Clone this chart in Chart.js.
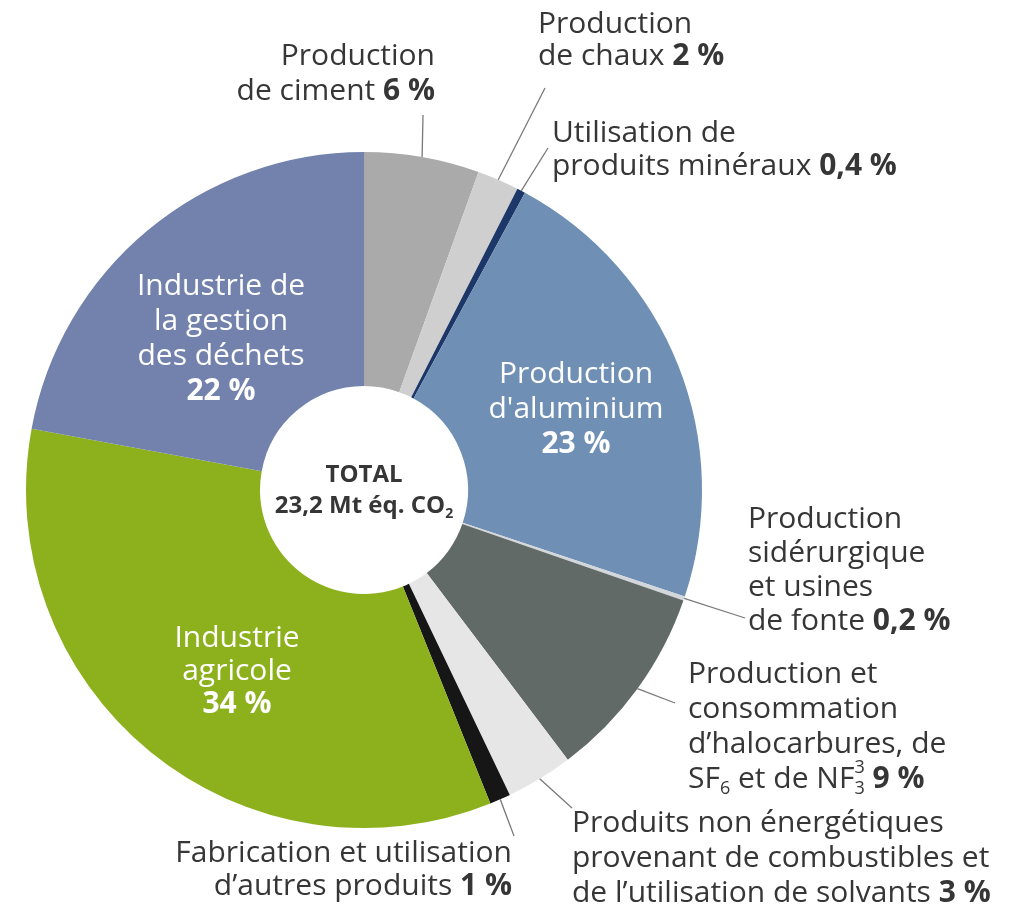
<!DOCTYPE html>
<html>
<head>
<meta charset="utf-8">
<script src="https://cdn.jsdelivr.net/npm/chart.js@4"></script>
<style>
  html, body { margin: 0; padding: 0; background: #fff; }
  #wrap { position: relative; width: 1025px; height: 907px; }
</style>
</head>
<body>
<div id="wrap"><canvas id="chart" width="1025" height="907"></canvas></div>
<script>
const categories = [
  'Production de ciment',
  'Production de chaux',
  'Utilisation de produits minéraux',
  "Production d'aluminium",
  'Production sidérurgique et usines de fonte',
  "Production et consommation d'halocarbures, de SF6 et de NF3",
  'Produits non énergétiques provenant de combustibles et de l’utilisation de solvants',
  'Fabrication et utilisation d’autres produits',
  'Industrie agricole',
  'Industrie de la gestion des déchets',
];
const shares = [5.5, 2, 0.4, 22.2, 0.2, 9.4, 3.2, 1, 34, 22.1];
const printed = ['6 %', '2 %', '0,4 %', '23 %', '0,2 %', '9 %', '3 %', '1 %', '34 %', '22 %'];
const colors = ['#aaaaaa', '#cfcfcf', '#1d3768', '#6f8fb4', '#d3d7dc', '#626a67', '#e6e6e6', '#161616', '#8db11d', '#7282ad'];

const totalLines = ['TOTAL', '23,2 Mt éq. CO'];

const DARK = '#363636';
const FONT = '"Open Sans", "DejaVu Sans", sans-serif';

const B = (t) => ({ t, bold: true });
const SUB = (t) => ({ t, sub: true });
const SUBSUP = (s, p) => ({ sub: s, sup: p });

// label blocks: index into data (for the leader line), anchor, lines of runs
const labelBlocks = [
  { i: 0, x: 435, y: 65, align: 'right', lh: 35, color: DARK, end: [423, 115],
    lines: [['Production'], ['de ciment ', B(printed[0])]] },
  { i: 1, x: 538, y: 33, align: 'left', lh: 32, color: DARK, end: [545, 88],
    lines: [['Production'], ['de chaux ', B(printed[1])]] },
  { i: 2, x: 552, y: 142, align: 'left', lh: 33, color: DARK, end: [548, 148],
    lines: [['Utilisation de'], ['produits minéraux ', B(printed[2])]] },
  { i: 3, x: 576, y: 383, align: 'center', lh: 35, color: '#fff',
    lines: [['Production'], ["d'aluminium"], [B(printed[3])]] },
  { i: 4, x: 748, y: 528, align: 'left', lh: 34, color: DARK, end: [745, 618],
    lines: [['Production'], ['sidérurgique'], ['et usines'], ['de fonte ', B(printed[4])]] },
  { i: 5, x: 688, y: 683, align: 'left', lh: 35, color: DARK, end: [675, 703],
    lines: [['Production et'], ['consommation'], ['d’halocarbures, de'],
            ['SF', SUB('6'), ' et de NF', SUBSUP('3', '3'), ' ', B(printed[5])]] },
  { i: 6, x: 572, y: 832, align: 'left', lh: 35, color: DARK, end: [572, 808],
    lines: [['Produits non énergétiques'], ['provenant de combustibles et'], ['de l’utilisation de solvants ', B(printed[6])]] },
  { i: 7, x: 512, y: 862, align: 'right', lh: 33, color: DARK, end: [514, 836],
    lines: [['Fabrication et utilisation'], ['d’autres produits ', B(printed[7])]] },
  { i: 8, x: 237, y: 647, align: 'center', lh: 33, color: '#fff',
    lines: [['Industrie'], ['agricole'], [B(printed[8])]] },
  { i: 9, x: 221, y: 295, align: 'center', lh: 35, color: '#fff',
    lines: [['Industrie de'], ['la gestion'], ['des déchets'], [B(printed[9])]] },
  { x: 364, y: 482, align: 'center', lh: 31, color: DARK, size: 24,
    lines: [[B(totalLines[0])], [B(totalLines[1]), { t: '2', sub: true, bold: true }]] },
];

function runFont(r, size, small) {
  const s = small ? Math.round(size * 0.6) : size;
  return (r.bold ? '700 ' : '400 ') + s + 'px ' + FONT;
}

function runWidth(ctx, r, size) {
  if (typeof r === 'string') r = { t: r };
  if (r.sup !== undefined) {
    ctx.font = runFont({}, size, true);
    return Math.max(ctx.measureText(r.sub).width, ctx.measureText(r.sup).width);
  }
  ctx.font = runFont(r, size, r.sub);
  return ctx.measureText(r.t).width;
}

function drawRun(ctx, r, x, y, size) {
  if (typeof r === 'string') r = { t: r };
  if (r.sup !== undefined) {
    ctx.font = runFont({}, size, true);
    ctx.fillText(r.sub, x, y + size * 0.2);
    ctx.fillText(r.sup, x, y - size * 0.5);
    return;
  }
  ctx.font = runFont(r, size, r.sub);
  ctx.fillText(r.t, x, r.sub ? y + size * 0.2 : y);
}

const labelPlugin = {
  id: 'labels',
  afterDraw(chart) {
    const ctx = chart.ctx;
    const meta = chart.getDatasetMeta(0);
    ctx.save();
    // leader lines from the middle of each arc's outer edge
    ctx.strokeStyle = '#7a7a7a';
    ctx.lineWidth = 1.3;
    labelBlocks.forEach((b) => {
      if (!b.end) return;
      const arc = meta.data[b.i];
      const p = arc.getProps(['x', 'y', 'startAngle', 'endAngle', 'outerRadius'], true);
      const mid = (p.startAngle + p.endAngle) / 2;
      ctx.beginPath();
      ctx.moveTo(p.x + Math.cos(mid) * p.outerRadius, p.y + Math.sin(mid) * p.outerRadius);
      ctx.lineTo(b.end[0], b.end[1]);
      ctx.stroke();
    });
    // text
    ctx.textBaseline = 'alphabetic';
    ctx.textAlign = 'left';
    labelBlocks.forEach((b) => {
      const size = b.size || 30;
      ctx.fillStyle = b.color;
      b.lines.forEach((line, k) => {
        const w = line.reduce((s, r) => s + runWidth(ctx, r, size), 0);
        let x = b.x;
        if (b.align === 'right') x -= w;
        else if (b.align === 'center') x -= w / 2;
        const y = b.y + k * b.lh;
        line.forEach((r) => {
          drawRun(ctx, r, x, y, size);
          x += runWidth(ctx, r, size);
        });
      });
    });
    ctx.restore();
  },
};

new Chart(document.getElementById('chart'), {
  type: 'doughnut',
  data: {
    labels: categories,
    datasets: [{
      data: shares,
      backgroundColor: colors,
      borderWidth: 0,
      hoverOffset: 0,
      offset: 0,
    }],
  },
  options: {
    responsive: false,
    animation: false,
    cutout: 104,
    rotation: 0,
    layout: { padding: { left: 26, top: 152, right: 323, bottom: 79 } },
    plugins: {
      legend: { display: false },
      tooltip: { enabled: false },
    },
  },
  plugins: [labelPlugin],
});
</script>
</body>
</html>
